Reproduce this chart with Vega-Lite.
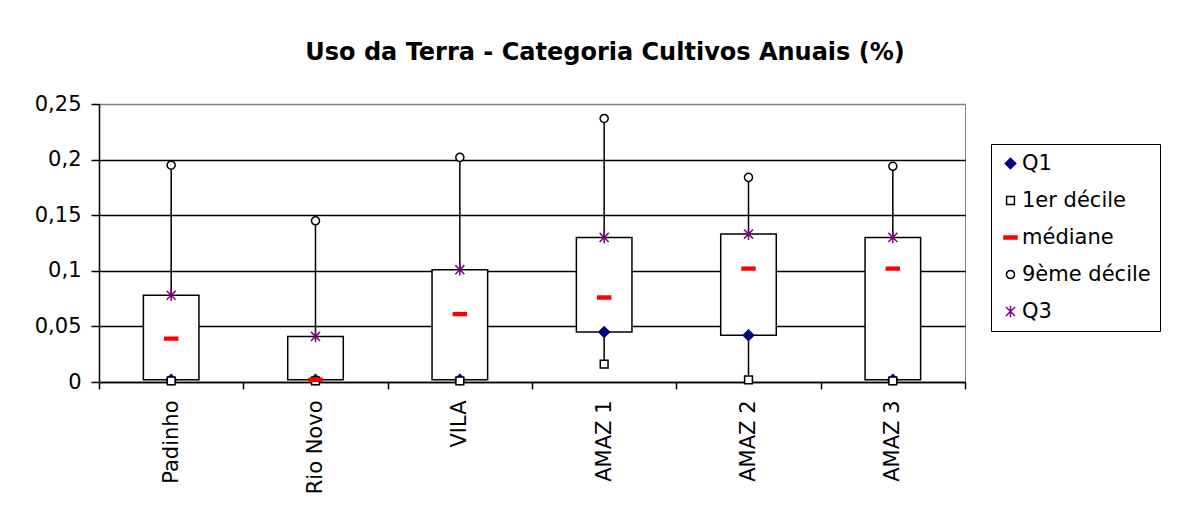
{
  "$schema": "https://vega.github.io/schema/vega-lite/v6.json",
  "width": 866,
  "height": 278,
  "autosize": {"type": "none"},
  "padding": {"left": 99, "top": 104, "right": 223, "bottom": 130},
  "background": "white",
  "title": {
    "text": "Uso da Terra - Categoria Cultivos Anuais (%)",
    "font": "DejaVu Sans",
    "fontSize": 24,
    "fontWeight": "bold",
    "color": "black",
    "anchor": "middle",
    "frame": "group",
    "dx": 73,
    "offset": 28
  },
  "config": {
    "view": {"stroke": "#808080", "strokeWidth": 1},
    "axis": {
      "labelFont": "DejaVu Sans",
      "labelFontSize": 21,
      "labelColor": "black",
      "domainColor": "black",
      "tickColor": "black",
      "domainWidth": 1.5,
      "tickWidth": 1.5
    },
    "legend": {
      "orient": "none",
      "legendX": 892,
      "legendY": 40,
      "strokeColor": "black",
      "fillColor": "white",
      "padding": 9,
      "labelFont": "DejaVu Sans",
      "labelFontSize": 21,
      "labelColor": "black",
      "symbolSize": 169,
      "symbolStrokeWidth": 1.5,
      "rowPadding": 15,
      "labelOffset": 1
    }
  },
  "data": {
    "values": [
      {"site": "Padinho", "d1": 0.001, "q1": 0.002, "med": 0.039, "q3": 0.078, "d9": 0.195},
      {"site": "Rio Novo", "d1": 0.001, "q1": 0.002, "med": 0.002, "q3": 0.041, "d9": 0.145},
      {"site": "VILA", "d1": 0.001, "q1": 0.002, "med": 0.061, "q3": 0.101, "d9": 0.202},
      {"site": "AMAZ 1", "d1": 0.016, "q1": 0.045, "med": 0.076, "q3": 0.130, "d9": 0.237},
      {"site": "AMAZ 2", "d1": 0.002, "q1": 0.042, "med": 0.102, "q3": 0.133, "d9": 0.184},
      {"site": "AMAZ 3", "d1": 0.001, "q1": 0.002, "med": 0.102, "q3": 0.130, "d9": 0.194}
    ]
  },
  "encoding": {
    "x": {
      "field": "site",
      "type": "nominal",
      "sort": null,
      "scale": {"type": "band", "paddingInner": 0, "paddingOuter": 0},
      "axis": {
        "title": null,
        "labelAngle": -90,
        "tickBand": "extent",
        "tickSize": 7,
        "labelPadding": 11,
        "grid": false
      }
    }
  },
  "layer": [
    {
      "mark": {"type": "rule", "color": "black", "strokeWidth": 1.5},
      "encoding": {
        "y": {
          "field": "d1",
          "type": "quantitative",
          "scale": {"domain": [0, 0.25], "nice": false},
          "axis": {
            "title": null,
            "values": [0, 0.05, 0.1, 0.15, 0.2, 0.25],
            "labelExpr": "replace(format(datum.value, '.2~f'), '.', ',')",
            "grid": true,
            "gridColor": {"condition": {"test": "datum.value >= 0.249", "value": "#808080"}, "value": "black"},
            "gridWidth": 1.5,
            "tickSize": 8,
            "labelPadding": 10
          }
        },
        "y2": {"field": "d9"}
      }
    },
    {
      "mark": {"type": "bar", "fill": "white", "stroke": "black", "strokeWidth": 1.5, "width": {"band": 0.385}},
      "encoding": {
        "y": {"field": "q1", "type": "quantitative"},
        "y2": {"field": "q3"}
      }
    },
    {
      "transform": [
        {"fold": ["q1", "d1", "med", "d9", "q3"], "as": ["serie", "value"]}
      ],
      "mark": {"type": "point", "size": 169, "strokeWidth": 1.5, "opacity": 1},
      "encoding": {
        "y": {"field": "value", "type": "quantitative"},
        "shape": {
          "field": "serie",
          "type": "nominal",
          "scale": {
            "domain": ["q1", "d1", "med", "d9", "q3"],
            "range": [
              "M0,-0.8L0.8,0L0,0.8L-0.8,0Z",
              "M-0.6,-0.6L0.6,-0.6L0.6,0.6L-0.6,0.6Z",
              "M-1,-0.22L1,-0.22L1,0.22L-1,0.22Z",
              "M-0.62,0A0.62,0.62,0,1,0,0.62,0A0.62,0.62,0,1,0,-0.62,0Z",
              "M-0.7,-0.7L0.7,0.7M-0.7,0.7L0.7,-0.7M0,-0.9L0,0.9"
            ]
          },
          "legend": {
            "title": null,
            "labelExpr": "{'q1':'Q1','d1':'1er décile','med':'médiane','d9':'9ème décile','q3':'Q3'}[datum.label]"
          }
        },
        "fill": {
          "field": "serie",
          "type": "nominal",
          "scale": {
            "domain": ["q1", "d1", "med", "d9", "q3"],
            "range": ["#000080", "white", "#FF0000", "white", "transparent"]
          },
          "legend": {
            "title": null,
            "labelExpr": "{'q1':'Q1','d1':'1er décile','med':'médiane','d9':'9ème décile','q3':'Q3'}[datum.label]"
          }
        },
        "stroke": {
          "field": "serie",
          "type": "nominal",
          "scale": {
            "domain": ["q1", "d1", "med", "d9", "q3"],
            "range": ["#000080", "black", "#FF0000", "black", "#800080"]
          },
          "legend": {
            "title": null,
            "labelExpr": "{'q1':'Q1','d1':'1er décile','med':'médiane','d9':'9ème décile','q3':'Q3'}[datum.label]"
          }
        }
      }
    }
  ]
}
